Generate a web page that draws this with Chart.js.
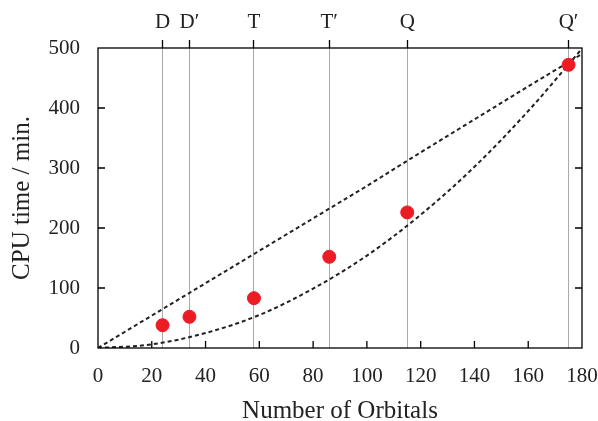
<!DOCTYPE html>
<html>
<head>
<meta charset="utf-8">
<script src="https://cdn.jsdelivr.net/npm/chart.js@4/dist/chart.umd.min.js"></script>
<style>
html,body{margin:0;padding:0;background:#fff;}
#wrap{width:598px;height:421px;}
</style>
</head>
<body>
<div id="wrap"><canvas id="c" width="598" height="421"></canvas></div>
<script>
// Data
const orbitals = [24, 34, 58, 86, 115, 175];
const basisLabels = ['D', 'D\u2032', 'T', 'T\u2032', 'Q', 'Q\u2032'];
const cpuTime = [38, 52, 83, 152, 226, 472];
const fitX = [0, 20, 40, 60, 80, 100, 120, 140, 160, 180];
const upperFit = [0, 54, 108, 162, 216, 270, 326, 381, 436, 490];
const lowerFit = [0, 6, 25, 55, 99, 154, 222, 302, 395, 499];
const xTicksStep = 20;
const yTicksStep = 100;

const serif = "'Liberation Serif', 'DejaVu Serif', serif";
const toXY = (xs, ys) => xs.map((x, i) => ({x: x, y: ys[i]}));

const framePlugin = {
  id: 'frame',
  afterDraw(chart) {
    const {ctx, chartArea: a, scales} = chart;
    ctx.save();
    ctx.strokeStyle = '#000';
    ctx.lineWidth = 1.3;
    ctx.strokeRect(a.left, a.top, a.right - a.left, a.bottom - a.top);
    const L = 7;
    ctx.beginPath();
    scales.x.ticks.forEach(t => {
      const px = scales.x.getPixelForValue(t.value);
      if (px <= a.left + 1 || px >= a.right - 1) return;
      ctx.moveTo(px, a.bottom); ctx.lineTo(px, a.bottom - L);
    });
    scales.y.ticks.forEach(t => {
      const py = scales.y.getPixelForValue(t.value);
      if (py <= a.top + 1 || py >= a.bottom - 1) return;
      ctx.moveTo(a.left, py); ctx.lineTo(a.left + L, py);
      ctx.moveTo(a.right, py); ctx.lineTo(a.right - L, py);
    });
    ctx.stroke();
    ctx.restore();
  }
};

const fixPad = s => { s.paddingLeft = 0; s.paddingRight = 0; };

new Chart(document.getElementById('c'), {
  type: 'scatter',
  data: {
    datasets: [
      {
        data: toXY(orbitals, cpuTime),
        backgroundColor: '#ec1c24',
        borderColor: '#ec1c24',
        pointRadius: 6.5,
        pointHoverRadius: 6.5,
        order: 0
      },
      {
        data: toXY(fitX, upperFit),
        showLine: true,
        pointRadius: 0,
        borderColor: '#222',
        borderWidth: 2,
        borderDash: [4, 3],
        order: 1
      },
      {
        data: toXY(fitX, lowerFit),
        showLine: true,
        pointRadius: 0,
        borderColor: '#222',
        borderWidth: 2,
        borderDash: [4, 3],
        cubicInterpolationMode: 'monotone',
        order: 1
      }
    ]
  },
  options: {
    responsive: false,
    animation: false,
    events: [],
    layout: {padding: {left: 0, right: 16, top: 0, bottom: 0}},
    plugins: {legend: {display: false}, tooltip: {enabled: false}},
    scales: {
      x: {
        type: 'linear', position: 'bottom', min: 0, max: 180,
        afterFit: s => { s.height = 73; fixPad(s); },
        grid: {display: false, drawTicks: false},
        border: {display: false},
        ticks: {stepSize: xTicksStep, padding: 16, color: '#222', font: {family: serif, size: 21}, maxRotation: 0},
        title: {display: true, text: 'Number of Orbitals', color: '#222', font: {family: serif, size: 25, lineHeight: 0.8}, padding: {top: 0, bottom: 0}}
      },
      x2: {
        type: 'linear', position: 'top', min: 0, max: 180,
        afterFit: s => { s.height = 48; fixPad(s); },
        afterBuildTicks: s => { s.ticks = orbitals.map(v => ({value: v})); },
        grid: {display: true, drawOnChartArea: true, color: '#aaa', lineWidth: 1, tickColor: '#000', tickLength: 8, tickWidth: 1.3},
        border: {display: false},
        ticks: {autoSkip: false, maxRotation: 0, padding: 5, color: '#222', font: {family: serif, size: 21},
          callback: (v, i) => basisLabels[i]}
      },
      y: {
        type: 'linear', position: 'left', min: 0, max: 500,
        afterFit: s => { s.width = 98; s.paddingTop = 0; s.paddingBottom = 0; },
        grid: {display: false, drawTicks: false},
        border: {display: false},
        ticks: {stepSize: yTicksStep, padding: 18, color: '#222', font: {family: serif, size: 21}},
        title: {display: true, text: 'CPU time / min.', color: '#222', font: {family: serif, size: 25}, padding: {top: 7, bottom: 0}}
      }
    }
  },
  plugins: [framePlugin]
});
</script>
</body>
</html>
